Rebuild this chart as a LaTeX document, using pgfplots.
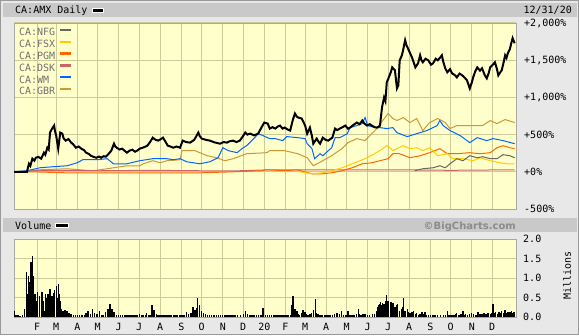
\documentclass[border=0pt]{standalone}
\usepackage{fontspec}
\setmainfont{DejaVu Sans Mono}
\newfontfamily\bcfont{DejaVu Sans}
\usepackage{pgfplots}
\pgfplotsset{compat=1.18}
\definecolor{panel}{HTML}{E8E8E8}
\definecolor{hdr}{HTML}{C9C9C9}
\definecolor{plotbg}{HTML}{FFFFCC}
\definecolor{gridc}{HTML}{CCCC99}
\definecolor{frame}{HTML}{A8A8A0}
\definecolor{legtext}{HTML}{707070}
\definecolor{cNFG}{HTML}{666666}
\definecolor{cFSX}{HTML}{FFCC00}
\definecolor{cPGM}{HTML}{FF6600}
\definecolor{cDSK}{HTML}{CC6666}
\definecolor{cWM}{HTML}{0066FF}
\definecolor{cGBR}{HTML}{CC9933}
\begin{document}
\begin{tikzpicture}[x=1bp,y=1bp,font=\fontsize{10bp}{12bp}\selectfont]
\useasboundingbox (0,0) rectangle (579,335);
\fill[panel] (0,0) rectangle (579,335);
\draw[gray!80] (0.5,0.5) rectangle (578.5,334.5);
% header bars
\fill[hdr] (3,318) rectangle (577,332);
\fill[hdr] (3,103) rectangle (577,117);
\node[anchor=base west, inner sep=0] at (15,321.5) {CA:AMX Daily};
\fill[black, draw=white] (92,323) rectangle (103,327);
\node[anchor=base east, inner sep=0] at (572,321.5) {12/31/20};
\node[anchor=base west, inner sep=0] at (15,105.8) {Volume};
\fill[black, draw=white] (55,108) rectangle (68,112);
\node[anchor=base east, inner sep=0, text=black!45] at (516,105.8) {\bcfont\bfseries ©BigCharts.com};
\node[rotate=90, inner sep=0] at (567,59.5) {Millions};

% main price panel
\begin{axis}[
  at={(14bp,126bp)}, anchor=south west, scale only axis,
  width=502bp, height=186bp,
  xmin=-3, xmax=735, ymin=-500, ymax=2000,
  axis background/.style={fill=plotbg},
  axis line style={draw=frame},
  xtick={31,59,90,120,151,181,212,243,273,304,334,365,396,425,456,486,517,547,578,609,639,670,700},
  xticklabels={,,,,,,,,,,,,,,,,,,,,,,},
  ytick={-500,0,500,1000,1500,2000},
  yticklabels={-500\%,+0\%,+500\%,{+1,000\%},{+1,500\%},{+2,000\%}},
  yticklabel pos=right,
  yticklabel style={anchor=west, inner sep=0pt, xshift=8bp},
  major tick length=0pt,
  grid=major,
  major grid style={draw=gridc, line width=1bp},
  legend style={at={(0,1)}, anchor=north west, xshift=5bp, yshift=-4bp,
    draw=none, fill=none, inner sep=0pt, outer sep=0pt,
    font=\fontsize{10bp}{12bp}\selectfont, text=legtext,
    row sep=0pt, column sep=4bp,
    nodes={inner sep=0pt, inner ysep=2.9bp, text height=6bp, text depth=0pt, anchor=west}},
  legend cell align=left, legend plot pos=right, reverse legend,
  legend image code/.code={\draw[#1, line width=2.4bp] (0bp,3bp) -- (11bp,3bp);},
  every axis plot/.append style={line width=1bp},
]
% GBR
\addplot[cGBR] coordinates {(-3,0)(35,27)(75,41)(94,27)(113,14)(134,41)(143,54)(163,81)(182,81)(187,108)(201,149)(212,122)(222,149)(241,162)(244,284)(260,284)(263,284)(281,216)(295,189)(307,149)(319,176)(339,243)(369,257)(373,284)(395,284)(414,243)(428,189)(437,81)(451,149)(464,216)(479,311)(488,392)(501,446)(513,419)(523,513)(532,594)(539,689)(547,783)(554,716)(560,689)(569,729)(579,662)(589,716)(598,554)(608,662)(620,716)(631,662)(638,581)(648,621)(667,621)(686,621)(697,689)(707,648)(719,702)(733,662)};
\addlegendentry{CA:GBR}
% WM
\addplot[cWM] coordinates {(-3,0)(16,14)(35,54)(54,68)(75,81)(90,122)(98,162)(119,162)(134,176)(143,108)(163,108)(182,149)(201,176)(212,176)(222,176)(231,162)(241,176)(251,135)(270,108)(285,135)(297,189)(304,324)(312,284)(325,257)(332,311)(339,351)(351,459)(356,513)(363,486)(373,446)(381,446)(392,419)(398,473)(414,459)(425,446)(428,378)(435,311)(439,176)(447,243)(451,216)(459,284)(464,324)(469,459)(476,459)(487,513)(491,594)(501,621)(509,648)(513,729)(517,621)(528,594)(535,594)(545,581)(554,594)(560,527)(575,473)(589,513)(604,554)(619,621)(623,689)(628,621)(638,554)(653,486)(667,392)(678,459)(692,419)(701,446)(716,419)(733,378)};
\addlegendentry{CA:WM}
% DSK
\addplot[cDSK] coordinates {(-3,0)(16,0)(24,14)(75,20)(123,14)(196,20)(270,14)(329,14)(373,27)(417,27)(491,27)(564,27)(638,20)(733,27)};
\addlegendentry{CA:DSK}
% PGM
\addplot[cPGM] coordinates {(-3,0)(24,0)(75,-14)(148,-14)(270,-14)(319,0)(359,14)(369,27)(395,14)(413,27)(435,-27)(450,-27)(464,-14)(479,14)(494,54)(509,108)(523,122)(535,149)(547,176)(554,243)(564,243)(579,189)(594,216)(608,257)(623,311)(634,243)(648,243)(667,257)(682,243)(697,257)(707,324)(716,351)(726,324)(733,311)};
\addlegendentry{CA:PGM}
% FSX
\addplot[cFSX] coordinates {(417,0)(435,-27)(450,-14)(464,14)(479,54)(494,108)(506,149)(513,176)(527,243)(539,311)(545,351)(550,324)(554,284)(560,311)(569,351)(579,311)(589,324)(598,284)(608,324)(620,216)(634,243)(642,176)(657,176)(672,149)(682,189)(697,149)(711,122)(722,108)(733,108)};
\addlegendentry{CA:FSX}
% NFG
\addplot[cNFG] coordinates {(586,14)(598,41)(613,54)(623,81)(631,54)(638,108)(648,176)(657,149)(667,216)(678,189)(686,203)(697,176)(707,176)(716,230)(726,216)(733,189)};
\addlegendentry{CA:NFG}
% AMX
\addplot[black, line width=2bp, forget plot] coordinates {(-3,0)(16,0)(19,108)(21,80)(24,176)(27,150)(29,189)(33,200)(37,176)(41,257)(43,230)(46,324)(48,300)(50,527)(53,581)(56,621)(57,560)(59,486)(62,311)(65,527)(68,513)(70,450)(73,419)(77,440)(81,392)(84,370)(88,324)(92,340)(96,311)(100,290)(103,257)(107,240)(110,216)(114,200)(118,189)(122,205)(125,189)(129,210)(132,203)(136,240)(140,284)(144,378)(146,340)(148,324)(152,300)(156,311)(160,280)(163,257)(167,285)(171,297)(175,270)(178,284)(182,311)(188,330)(193,351)(197,400)(201,459)(205,430)(209,419)(213,440)(216,459)(220,400)(223,351)(227,340)(231,324)(236,340)(241,324)(245,419)(250,400)(256,392)(262,430)(268,527)(270,480)(273,446)(279,430)(285,419)(292,395)(300,378)(305,400)(310,392)(314,410)(319,419)(324,400)(329,419)(333,470)(337,527)(340,500)(344,513)(350,490)(356,513)(361,600)(365,662)(370,648)(373,581)(377,600)(381,581)(385,610)(388,621)(392,580)(395,594)(399,570)(403,554)(407,700)(410,783)(413,740)(415,729)(420,716)(425,621)(428,513)(432,594)(435,480)(437,378)(440,420)(442,446)(445,400)(447,378)(451,459)(455,430)(459,419)(462,440)(465,459)(469,581)(472,560)(476,581)(480,600)(484,621)(488,580)(491,594)(496,630)(501,662)(505,640)(509,689)(512,650)(516,621)(520,640)(523,621)(527,600)(531,594)(535,621)(538,864)(541,999)(543,950)(545,1202)(548,1269)(551,1340)(553,1404)(557,1364)(560,1121)(562,1161)(564,1499)(567,1560)(569,1634)(572,1769)(574,1700)(576,1661)(579,1600)(582,1539)(585,1460)(587,1404)(591,1458)(594,1566)(596,1500)(598,1472)(602,1520)(606,1499)(610,1440)(613,1458)(617,1520)(620,1499)(623,1530)(626,1566)(628,1480)(631,1391)(634,1337)(638,1380)(641,1323)(645,1300)(648,1269)(652,1320)(656,1296)(660,1260)(663,1229)(667,1121)(670,1200)(672,1269)(675,1350)(678,1404)(682,1360)(685,1391)(689,1300)(692,1256)(695,1330)(697,1404)(701,1440)(704,1472)(707,1380)(709,1296)(712,1340)(714,1364)(717,1480)(719,1566)(721,1530)(723,1593)(726,1650)(728,1728)(730,1796)(733,1728)};
\end{axis}

% volume panel
\begin{axis}[
  at={(14bp,18bp)}, anchor=south west, scale only axis,
  width=502bp, height=78bp,
  xmin=-3, xmax=735, ymin=0, ymax=2,
  axis background/.style={fill=plotbg},
  axis line style={draw=frame},
  xtick={31,59,90,120,151,181,212,243,273,304,334,365,396,425,456,486,517,547,578,609,639,670,700},
  xticklabels={F,M,A,M,J,J,A,S,O,N,D,20,F,M,A,M,J,J,A,S,O,N,D},
  xticklabel style={anchor=north, inner sep=0pt, yshift=-6bp},
  ytick={0,0.5,1,1.5,2},
  yticklabels={0.0,0.5,1.0,1.5,2.0},
  yticklabel pos=right,
  yticklabel style={anchor=west, inner sep=0pt, xshift=7bp},
  major tick length=0pt,
  grid=major,
  major grid style={draw=gridc, line width=1bp},
]
\addplot[ycomb, black, line width=1.3bp] coordinates {(-3,0.15)(0,0.05)(3,0.04)(6,0.03)(9,0.05)(12,0.2)(15,1.15)(16,0.6)(18,1.05)(19,0.9)(21,1.15)(22,1.4)(24,1.56)(25,1.05)(26,0.95)(28,0.6)(29,0.35)(31,0.4)(32,0.64)(34,0.2)(35,0.55)(37,0.25)(38,0.64)(40,0.4)(41,0.15)(43,0.6)(44,0.5)(46,0.58)(47,0.55)(48,0.6)(50,0.72)(51,0.35)(53,0.55)(54,0.45)(56,0.62)(57,0.7)(59,0.8)(60,0.5)(62,0.84)(63,0.6)(65,0.4)(66,0.2)(67,0.1)(69,0.15)(72,0.18)(75,0.15)(78,0.1)(81,0.08)(84,0.06)(87,0.05)(90,0.06)(93,0.06)(96,0.04)(98,0.05)(101,0.06)(103,0.1)(106,0.15)(109,0.08)(112,0.2)(115,0.1)(119,0.08)(123,0.15)(126,0.06)(128,0.05)(132,0.12)(135,0.2)(138,0.33)(141,0.2)(144,0.12)(148,0.05)(151,0.05)(154,0.04)(157,0.05)(160,0.05)(163,0.06)(166,0.04)(169,0.05)(172,0.06)(175,0.05)(178,0.04)(182,0.08)(185,0.06)(187,0.04)(190,0.06)(192,0.1)(195,0.06)(197,0.05)(200,0.3)(203,0.18)(206,0.08)(208,0.06)(210,0.05)(213,0.06)(216,0.05)(219,0.05)(222,0.04)(225,0.06)(228,0.05)(232,0.06)(235,0.05)(237,0.05)(241,0.06)(244,0.05)(247,0.05)(251,0.12)(254,0.08)(257,0.1)(260,0.26)(263,0.18)(265,0.22)(267,0.49)(270,0.3)(273,0.15)(276,0.1)(279,0.07)(281,0.06)(284,0.06)(287,0.05)(290,0.05)(292,0.04)(295,0.06)(298,0.06)(301,0.05)(304,0.05)(307,0.06)(310,0.05)(313,0.05)(316,0.04)(319,0.05)(322,0.05)(326,0.05)(330,0.06)(334,0.08)(337,0.15)(340,0.08)(344,0.04)(347,0.06)(350,0.05)(353,0.06)(356,0.05)(360,0.04)(363,0.23)(367,0.05)(370,0.06)(373,0.06)(376,0.05)(379,0.04)(382,0.06)(385,0.05)(388,0.06)(391,0.06)(394,0.05)(397,0.05)(400,0.06)(403,0.04)(405,0.3)(407,0.54)(410,0.2)(413,0.15)(415,0.08)(417,0.05)(420,0.1)(422,0.17)(425,0.13)(427,0.08)(429,0.05)(432,0.07)(434,0.1)(437,0.18)(440,0.46)(442,0.1)(444,0.08)(447,0.05)(449,0.06)(451,0.04)(454,0.06)(457,0.06)(460,0.05)(462,0.05)(465,0.06)(468,0.07)(472,0.1)(475,0.08)(478,0.15)(481,0.06)(484,0.04)(486,0.06)(488,0.15)(491,0.06)(494,0.05)(496,0.06)(498,0.05)(500,0.08)(503,0.2)(505,0.08)(507,0.06)(510,0.07)(513,0.08)(517,0.06)(520,0.06)(524,0.07)(527,0.08)(530,0.15)(531,0.25)(533,0.3)(534,0.34)(536,0.38)(537,0.3)(539,0.36)(541,0.33)(543,0.35)(544,0.4)(545,0.56)(547,0.42)(548,0.3)(550,0.28)(551,0.38)(553,0.3)(554,0.35)(556,0.22)(557,0.25)(559,0.3)(560,0.2)(561,0.33)(564,0.15)(567,0.2)(569,0.25)(570,0.48)(572,0.15)(575,0.2)(577,0.12)(579,0.1)(582,0.12)(584,0.15)(587,0.08)(589,0.1)(592,0.06)(594,0.08)(597,0.13)(599,0.07)(601,0.13)(603,0.06)(606,0.05)(609,0.06)(613,0.05)(616,0.06)(620,0.05)(624,0.06)(628,0.04)(631,0.06)(634,0.15)(636,0.06)(638,0.05)(641,0.06)(644,0.05)(646,0.07)(648,0.1)(651,0.06)(653,0.07)(655,0.08)(657,0.15)(659,0.06)(661,0.08)(664,0.06)(667,0.08)(670,0.1)(673,0.08)(676,0.06)(679,0.12)(682,0.08)(685,0.07)(688,0.09)(691,0.08)(694,0.1)(697,0.07)(699,0.1)(701,0.33)(703,0.1)(705,0.12)(708,0.08)(710,0.12)(712,0.1)(714,0.15)(717,0.1)(719,0.18)(721,0.1)(723,0.12)(726,0.14)(728,0.15)(730,0.1)(732,0.12)};
\end{axis}
\end{tikzpicture}
\end{document}
